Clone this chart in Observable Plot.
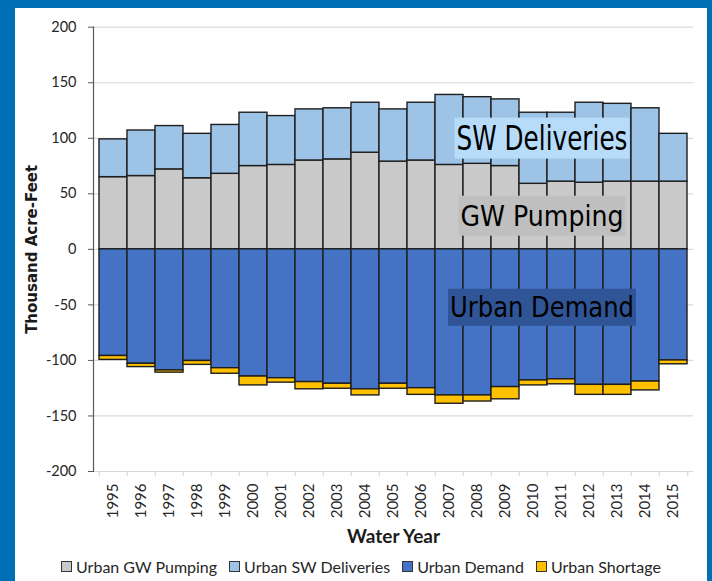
<!DOCTYPE html>
<html>
<head>
<meta charset="utf-8">
<script src="https://cdn.jsdelivr.net/npm/d3@7"></script>
<script src="https://cdn.jsdelivr.net/npm/@observablehq/plot@0.6"></script>
<style>
html, body { margin: 0; padding: 0; background: #0070b6; }
body { width: 712px; height: 581px; position: relative; overflow: hidden; }
#frame { position: absolute; left: 15px; top: 8px; width: 692px; height: 573px; background: #ffffff; }
#chart { position: absolute; left: 0; top: 0; }
#legend { position: absolute; left: 0; top: 548px; width: 692px; height: 20px; display: flex; justify-content: center; align-items: center;
  font-family: Lato, "Open Sans", sans-serif; font-size: 16px; color: #262626; }
.item { display: flex; align-items: center; margin: 0 6px; white-space: nowrap; }
.sw { width: 9px; height: 9px; border: 1px solid #333; margin-right: 4px; }
</style>
</head>
<body>
<div id="frame">
  <div id="chart"></div>
  <div id="legend"></div>
</div>
<script>
// ---- data (thousand acre-feet) ----
const years = [1995,1996,1997,1998,1999,2000,2001,2002,2003,2004,2005,2006,2007,2008,2009,2010,2011,2012,2013,2014,2015];
const gwPumping     = [65,66,72,64,68,75,76,80,81,87,79,80,76,77,75,59,61,60,61,61,61];
const swDeliveries  = [34,41,39,40,44,48,44,46,46,45,47,52,63,60,60,64,62,72,70,66,43];
const urbanDemand   = [-96,-103,-109,-100.5,-107,-114.5,-116,-119.5,-121,-126,-121,-125,-131.5,-131.5,-124,-118,-117,-122,-122,-119,-100];
const urbanShortage = [-3.5,-3,-2,-3.5,-5,-8,-4,-6.5,-4.5,-5.5,-4.5,-6,-7.5,-5.5,-11,-4.5,-4.5,-9,-9,-8,-3.5];
const seriesNames   = ["Urban GW Pumping","Urban SW Deliveries","Urban Demand","Urban Shortage"];
const yTicks        = [-200,-150,-100,-50,0,50,100,150,200];
const annotationLabels = ["SW Deliveries","GW Pumping","Urban Demand"];
const annotationYears  = ["2010","2010","2010"];
const annotationValues = [99.3, 29.7, -52.8];

// ---- styles ----
const seriesColors = ["#c9c9c9","#9dc3e6","#4472c4","#ffc000"];
const annotationStyle = [
  {fill: "#b7dcfa", size: 33, width: 171, padY: 1},
  {fill: "#bfbfbf", size: 29, width: 163, padY: 3},
  {fill: "#2f5597", size: 29, width: 184, padY: 1.5}
];

const seriesValues = [gwPumping, swDeliveries, urbanDemand, urbanShortage];
const data = [];
years.forEach((yr, i) => {
  seriesNames.forEach((s, k) => data.push({year: String(yr), series: s, value: seriesValues[k][i]}));
});
const annotations = annotationLabels.map((label, i) => ({label, year: annotationYears[i], value: annotationValues[i], size: annotationStyle[i].size}));

const W = 692, H = 545, mL = 78, mR = 14, mT = 18.7, mB = 82;
const bw = (W - mL - mR) / years.length;

const plot = Plot.plot({
  width: W, height: H,
  marginLeft: mL, marginRight: mR, marginTop: mT, marginBottom: mB,
  style: {fontFamily: "Lato, 'Open Sans', sans-serif", fontSize: "14px", color: "#262626", background: "transparent", overflow: "visible"},
  x: {type: "band", domain: years.map(String), padding: 0, label: null},
  y: {domain: [-200, 200], label: null},
  color: {domain: seriesNames, range: seriesColors},
  marks: [
    Plot.gridY(yTicks, {stroke: "#d9d9d9", strokeOpacity: 1, strokeWidth: 1.2}),
    Plot.barY(data, Plot.stackY({x: "year", y: "value", fill: "series", order: seriesNames,
      stroke: "#1e1e1e", strokeWidth: 1.4})),
    Plot.frame({anchor: "left", stroke: "#595959", strokeWidth: 1.2}),
    Plot.axisY(yTicks, {tickSize: 5, tickPadding: 12, stroke: "#595959", fontSize: 14.5, tickFormat: d => String(d)}),
    Plot.axisX(years.map(String), {tickSize: 5, tickFormat: () => "", dx: -bw / 2, stroke: "#d0d0d0"}),
    Plot.axisX([String(years[years.length - 1])], {tickSize: 5, tickFormat: () => "", dx: bw / 2, stroke: "#d0d0d0"}),
    Plot.axisX({tickSize: 0, tickPadding: 12, tickRotate: -90, fontSize: 15}),
    Plot.text(["Thousand Acre-Feet"], {frameAnchor: "left", rotate: -90, textAnchor: "middle", dx: -61, dy: 0,
      fontWeight: "bold", fontSize: 15, fontFamily: "'DejaVu Sans', sans-serif", fill: "#1a1a1a"}),
    Plot.text(["Water Year"], {frameAnchor: "bottom", lineAnchor: "middle", dy: 65, fontWeight: "bold", fontSize: 19, fill: "#1a1a1a"}),
    Plot.text(annotations, {x: "year", y: "value", text: "label", dx: 8.5, textAnchor: "middle", lineAnchor: "middle",
      fontSize: "size", fontFamily: "'DejaVu Sans', sans-serif", fill: "#000"})
  ]
});

document.getElementById("chart").appendChild(plot);

// compress annotation text to a condensed look and put coloured boxes behind it
const allTexts = Array.from(plot.querySelectorAll("text"));
annotationLabels.forEach((label, i) => {
  const t = allTexts.find(el => el.textContent === label);
  if (!t) return;
  const st = annotationStyle[i];
  t.setAttribute("textLength", st.width);
  t.setAttribute("lengthAdjust", "spacingAndGlyphs");
  const bb = t.getBBox();
  const r = document.createElementNS("http://www.w3.org/2000/svg", "rect");
  const padX = 2;
  r.setAttribute("x", bb.x - padX);
  r.setAttribute("y", bb.y - st.padY);
  r.setAttribute("width", bb.width + 2 * padX);
  r.setAttribute("height", bb.height + 2 * st.padY);
  r.setAttribute("fill", st.fill);
  if (t.getAttribute("transform")) r.setAttribute("transform", t.getAttribute("transform"));
  t.parentNode.insertBefore(r, t.parentNode.firstChild);
});

// legend
const legend = document.getElementById("legend");
seriesNames.forEach((s, k) => {
  const it = document.createElement("div");
  it.className = "item";
  const sw = document.createElement("span");
  sw.className = "sw";
  sw.style.background = seriesColors[k];
  const tx = document.createElement("span");
  tx.textContent = s;
  it.appendChild(sw); it.appendChild(tx);
  legend.appendChild(it);
});
</script>
</body>
</html>
